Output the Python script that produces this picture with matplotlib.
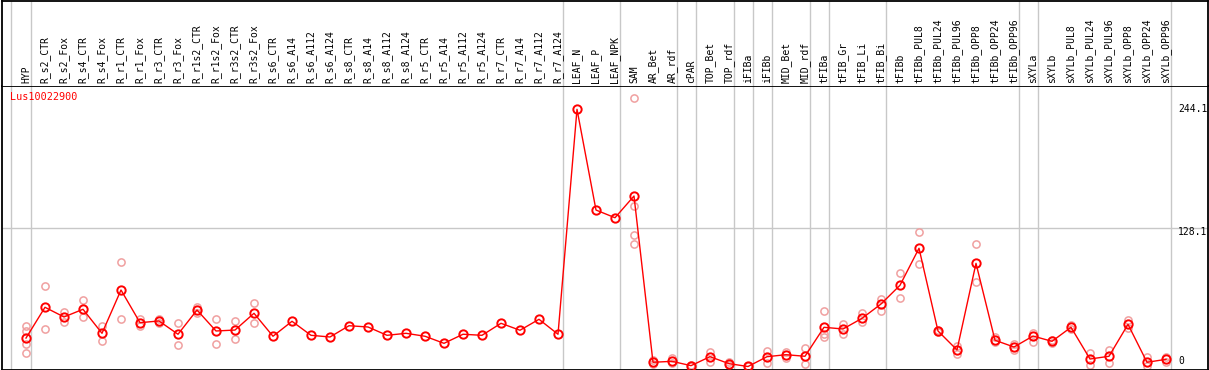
import matplotlib
matplotlib.use("Agg")
import matplotlib.pyplot as plt
import numpy as np

# categories shown along the top
samples = ["HYP", "R_s2_CTR", "R_s2_Fox", "R_s4_CTR", "R_s4_Fox", "R_r1_CTR", "R_r1_Fox",
           "R_r3_CTR", "R_r3_Fox", "R_r1s2_CTR", "R_r1s2_Fox", "R_r3s2_CTR", "R_r3s2_Fox",
           "R_s6_CTR", "R_s6_A14", "R_s6_A112", "R_s6_A124", "R_s8_CTR", "R_s8_A14",
           "R_s8_A112", "R_s8_A124", "R_r5_CTR", "R_r5_A14", "R_r5_A112", "R_r5_A124",
           "R_r7_CTR", "R_r7_A14", "R_r7_A112", "R_r7_A124", "LEAF_N", "LEAF_P", "LEAF_NPK",
           "SAM", "AR_Bet", "AR_rdf", "cPAR", "TOP_Bet", "TOP_rdf", "iFIBa", "iFIBb",
           "MID_Bet", "MID_rdf", "tFIBa", "tFIB_Gr", "tFIB_Li", "tFIB_Bi", "tFIBb",
           "tFIBb_PUL8", "tFIBb_PUL24", "tFIBb_PUL96", "tFIBb_OPP8", "tFIBb_OPP24",
           "tFIBb_OPP96", "sXYLa", "sXYLb", "sXYLb_PUL8", "sXYLb_PUL24", "sXYLb_PUL96",
           "sXYLb_OPP8", "sXYLb_OPP24", "sXYLb_OPP96"]

# sizes of the sample groups (separated by grey lines)
group_sizes = [1, 28, 3, 3, 1, 2, 1, 1, 2, 1, 3, 7, 1, 7]

# mean expression per sample
means = [27.0, 56.2, 47.0, 54.3, 31.5, 72.6, 41.6, 43.2, 30.6, 53.6, 33.7, 34.6, 50.5,
         28.7, 42.9, 29.6, 28.0, 38.7, 37.5, 29.6, 31.5, 28.7, 22.0, 30.6, 29.6, 41.0,
         34.4, 44.8, 30.6, 244.1, 148.5, 141.2, 161.8, 4.0, 4.9, 0.8, 9.3, 2.7, 0.0,
         9.3, 11.2, 9.7, 37.2, 35.6, 45.7, 59.3, 77.1, 112.2, 33.7, 15.7, 97.9, 24.9,
         18.5, 28.9, 23.9, 37.2, 7.1, 9.7, 40.0, 4.0, 6.8]

# individual replicates per sample
replicates = [[38.4, 33.7, 21.4, 12.8], [76.4, 35.6], [52.0, 41.9], [63.1, 46.7],
              [38.4, 24.2], [99.2, 44.8], [44.8, 38.4], [45.1, 41.3], [41.0, 20.1],
              [56.5, 50.8], [45.1, 21.1], [42.9, 25.8], [60.0, 41.0],
              [], [], [], [], [], [], [], [], [], [], [], [], [], [], [], [],
              [], [], [],
              [254.5, 152.3, 124.8, 116.3], [6.2, 2.4], [8.1, 3.0], [1.4, 0.0],
              [13.5, 4.0], [3.8, 1.4], [0.5, 0.0], [14.7, 3.6], [13.8, 7.8], [17.6, 2.1],
              [52.7, 30.8, 27.7], [40.0, 30.8], [50.8, 42.5], [64.1, 53.0], [88.5, 65.3],
              [127.4, 97.0], [33.0, 34.4], [19.5, 11.9], [116.0, 80.5], [27.7, 23.0],
              [21.4, 15.4], [32.1, 23.0], [22.0, 25.6], [39.4, 35.6], [13.1, 1.4],
              [15.4, 3.6], [44.1, 36.8], [8.7, 0.0], [8.7, 4.6]]

gene = "Lus10022900"
scale_labels = ["244.1", "128.1", "0"]
scale_values = [244.1, 128.1, 0.0]

W, H = 1209, 370
fig = plt.figure(figsize=(W / 100, H / 100), dpi=100)
mono = "DejaVu Sans Mono"
grey = "#C8C8C8"

left, right = 1.5 / W, 1208 / W
sep = 85.5
ax = fig.add_axes([left, 0.5 / H, right - left, (H - sep - 0.5) / H])
ax_top = fig.add_axes([left, (H - sep) / H, right - left, (sep - 0.5) / H])

x = np.arange(len(samples))
xlim = ((1.5 - 26) / 19, (1208 - 26) / 19)
for a in (ax, ax_top):
    a.set_xlim(*xlim)
    a.set_xticks([])
    a.set_yticks([])
    for s in a.spines.values():
        s.set_linewidth(1.3)
        s.set_color("black")
ax_top.spines["bottom"].set_visible(False)
ax.set_ylim(-2.85, 266.7)
ax_top.set_ylim(0, sep)

# group separators
bounds = [-0.8] + list(np.cumsum(group_sizes) - 1 + 0.25)
for b in bounds:
    ax.axvline(b, color=grey, lw=1, zorder=0)
    ax_top.axvline(b, color=grey, lw=1, zorder=0)
ax.axhline(131.2, color=grey, lw=1, zorder=0)

# replicates
for i, reps in enumerate(replicates):
    if reps:
        ax.plot([i] * len(reps), reps, "o", mfc="none", mec="#F0A0A0", ms=5.2, mew=1.1,
                zorder=2)

ax.plot(x, means, "-", color="red", lw=1, zorder=3)
ax.plot(x, means, "o", mfc="none", mec="red", ms=6, mew=1.4, zorder=4)

for i, name in enumerate(samples):
    ax_top.text(i, 2.5, name, rotation=90, ha="center", va="bottom",
                family=mono, fontsize=7)

for lab, v in zip(scale_labels, scale_values):
    ax.text(60.63, v, lab, ha="left", va="bottom" if v == 0 else "center",
            family=mono, fontsize=7)

fig.text(10 / W, 1 - 96.7 / H, gene, color="red", family=mono, fontsize=7.3,
         ha="left", va="center")

fig.savefig("out.png", dpi=100)
